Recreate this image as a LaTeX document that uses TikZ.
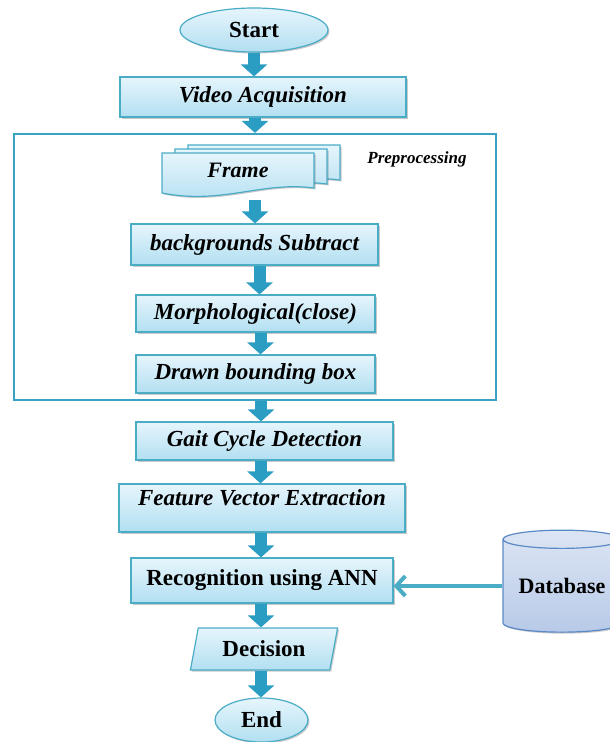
\documentclass[tikz,border=0pt]{standalone}
\usepackage{fontspec}
\setmainfont{Liberation Serif}
\usetikzlibrary{shapes.geometric,arrows.meta,shadows}
\definecolor{bord}{HTML}{4BACC6}
\definecolor{outer}{HTML}{3AA3C4}
\definecolor{arr}{HTML}{2B9CC2}
\definecolor{ftop}{HTML}{E6F5FC}
\definecolor{fbot}{HTML}{B2DFF1}
\definecolor{dbtop}{HTML}{DCE5F4}
\definecolor{dbbot}{HTML}{B8CAE8}
\definecolor{dbline}{HTML}{5A8AC6}
\begin{document}
\begin{tikzpicture}[x=1pt,y=-1pt,
  bigfont/.style={font=\fontsize{23}{27}\selectfont\bfseries\itshape},
  bigup/.style={font=\fontsize{23}{27}\selectfont\bfseries},
  shadowed/.style={drop shadow={shadow xshift=1.5pt,shadow yshift=-1.5pt,opacity=.3,fill=black!70}},
  box/.style={rectangle,draw=bord,line width=1.2pt,top color=ftop,bottom color=fbot,shadowed,
    inner sep=0pt,bigfont},
  oval/.style={ellipse,draw=bord,line width=1.2pt,top color=ftop,bottom color=fbot,shadowed,
    inner sep=0pt,bigup},
  blk/.style={draw=arr,line width=12pt,-{Triangle[width=26pt,length=12pt]}},
  thin/.style={draw=bord,line width=4pt,-{Straight Barb[length=9pt,width=20pt]}},
  doc/.style={draw=bord,line width=1.2pt,top color=ftop,bottom color=fbot},
]
\useasboundingbox (0,0) rectangle (610,742);

% outer preprocessing frame
\node[draw=outer,line width=2.2pt,minimum width=482,minimum height=266,inner sep=0pt] (pre) at (255,267) {};
\node[font=\fontsize{17}{20}\selectfont\bfseries\itshape] (pretext) at (417,159) {Preprocessing};

\node[oval,minimum width=148,minimum height=44] (start) at (254,30) {Start};
\node[box,minimum width=286,minimum height=40] (video) at (263,97) {Video Acquisition};

% Frame (multiple documents)
\foreach \xo/\yo in {188/145,175/149,162/153}{
  \path[doc,shadowed] (\xo,\yo) -- (\xo+152,\yo) -- (\xo+152,\yo+35)
     .. controls (\xo+100,\yo+28) and (\xo+60,\yo+52) .. (\xo,\yo+40) -- cycle;
}
\node[font=\fontsize{22}{26}\selectfont\bfseries\itshape] (frame) at (238,170) {Frame};
\coordinate (framebot) at (255,200);

\node[box,minimum width=247,minimum height=41] (bg) at (254.5,244.5) {backgrounds Subtract};
\node[box,minimum width=239,minimum height=37] (morph) at (255.5,313.5) {Morphological(close)};
\node[box,minimum width=239,minimum height=38] (drawn) at (255.5,374) {Drawn bounding box};
\node[box,minimum width=257,minimum height=38] (gait) at (264.5,441) {Gait Cycle Detection};
\node[box,minimum width=286,minimum height=48,text height=13pt,text depth=19pt] (feat) at (262,508) {Feature Vector Extraction};
\node[box,minimum width=262,minimum height=45,bigup] (rec) at (262,580.5) {Recognition using ANN};
\node[cylinder,shape border rotate=90,aspect=0.21,minimum width=118,minimum height=102,
  draw=dbline,line width=1.2pt,top color=dbtop,bottom color=dbbot,shadowed,inner sep=0pt,
  font=\fontsize{22}{26}\selectfont\bfseries] (db) at (562,586) {Database};
\node[trapezium,trapezium left angle=73,trapezium right angle=107,trapezium stretches=true,
  minimum width=148,minimum height=42,draw=bord,line width=1.2pt,top color=ftop,bottom color=fbot,shadowed,
  inner sep=0pt,bigup] (dec) at (264,649) {Decision};
\node[oval,minimum width=93,minimum height=44] (end) at (261.5,720) {End};

% connectors
\draw[blk] (start.south) -- (start.south |- video.north);
\draw[blk] ([xshift=-8pt]video.south) -- ([xshift=-8pt]video.south |- pre.north);
\draw[blk] (framebot) -- (framebot |- bg.north);
\draw[blk] ([xshift=5pt]bg.south) -- ([xshift=5pt]bg.south |- morph.north);
\draw[blk] ([xshift=5pt]morph.south) -- ([xshift=5pt]morph.south |- drawn.north);
\draw[blk] ([xshift=6pt]pre.south) -- ([xshift=6pt]pre.south |- gait.north);
\draw[blk] ([xshift=-4pt]gait.south) -- ([xshift=-4pt]gait.south |- feat.north);
\draw[blk] ([xshift=-1pt]feat.south) -- ([xshift=-1pt]feat.south |- rec.north);
\draw[blk] ([xshift=-1pt]rec.south) -- ([xshift=-1pt]rec.south |- dec.north);
\draw[blk] ([xshift=-3pt]dec.south) -- ([xshift=-3pt]dec.south |- end.north);
\draw[thin] (db.west) -- (db.west -| rec.east);
\end{tikzpicture}
\end{document}
